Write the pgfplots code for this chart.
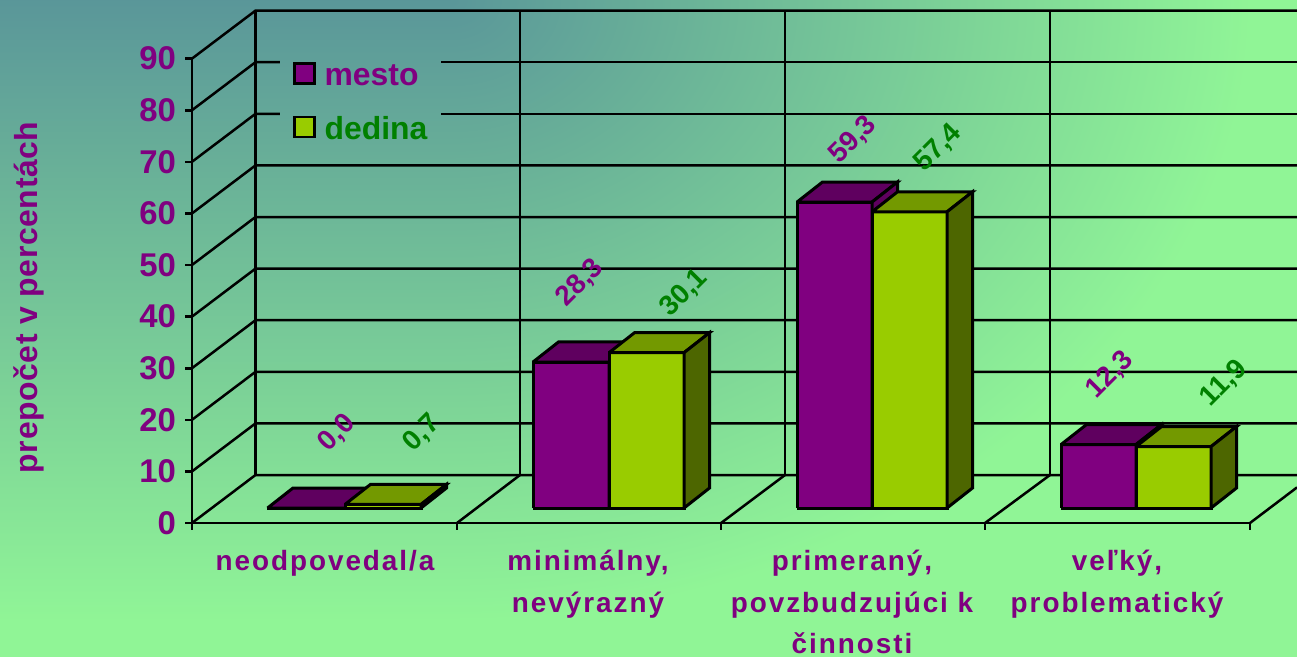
\documentclass[border=0pt]{standalone}
\usepackage{fontspec}
\usepackage{pgfplots}
\pgfplotsset{compat=1.18}
\setmainfont{Liberation Sans}
\newfontfamily\catfont[LetterSpace=7]{Liberation Sans}
\newfontfamily\ylabfont[LetterSpace=2]{Liberation Sans}
\definecolor{pur}{HTML}{800080}
\definecolor{purtop}{HTML}{5F005F}
\definecolor{lim}{HTML}{99CC00}
\definecolor{limtop}{HTML}{739900}
\definecolor{limside}{HTML}{4D6600}
\definecolor{grn}{HTML}{008000}
\pgfdeclarefunctionalshading{bg}{\pgfpointorigin}{\pgfpoint{1297bp}{657bp}}{}{
  657 exch sub 620 div dup mul
  exch 450 sub dup 0 lt {pop 0} if 800 div dup mul add sqrt
  dup 1 gt {pop 1} if
  dup 0.212 mul 0.353 add exch
  dup 0.370 mul 0.590 add exch
  -0.010 mul 0.600 add
}
% one 3D bar: left, right, value, colours of front, top and side
\newcommand\barD[6]{%
  \addplot[draw=black,line width=3bp,line join=miter,fill=#4] coordinates
    {(#1,2.9) (#2,2.9) (#2,{2.9+#3}) (#1,{2.9+#3}) (#1,2.9)};
  \addplot[draw=black,line width=3bp,line join=miter,fill=#5] coordinates
    {(#1,{2.9+#3}) (#2,{2.9+#3}) ({#2+25.5},{6.78+#3}) ({#1+25.5},{6.78+#3}) (#1,{2.9+#3})};
  \addplot[draw=black,line width=3bp,line join=miter,fill=#6] coordinates
    {(#2,2.9) ({#2+25.5},6.78) ({#2+25.5},{6.78+#3}) (#2,{2.9+#3}) (#2,2.9)};
}
\begin{document}
\begin{tikzpicture}[x=1bp,y=1bp]
\node[inner sep=0pt,outer sep=0pt,anchor=south west] at (-192bp,-134bp) {\pgfuseshading{bg}};
\begin{axis}[
  scale only axis,
  width=1058bp,height=464.4bp,
  xmin=192,xmax=1250,ymin=0,ymax=90,
  clip=false,
  axis lines=left,
  axis line style={-,line width=2.6bp,black},
  tick style={line width=2.6bp,black},
  major tick length=6.5bp,
  tick align=outside,
  ytick={0,10,...,90},
  xtick={192,457,721,985,1250},
  xticklabels={,,,,},
  extra x ticks={325,588,852,1117},
  extra x tick labels={neodpovedal/a,{minimálny,\\nevýrazný},{primeraný,\\povzbudzujúci k\\činnosti},{veľký,\\problematický}},
  extra x tick style={major tick length=0pt,tick style={draw=none},
    xticklabel style={align=center,anchor=north,inner sep=0pt,yshift=-27bp,text=pur,
      font=\catfont\fontsize{28}{41.5}\selectfont\bfseries}},
  yticklabel style={text=pur,font=\fontsize{33}{38}\selectfont\bfseries,xshift=-6bp},
  /pgf/number format/assume math mode=true,
  ylabel={prepočet v percentách},
  every axis y label/.style={at={(rel axis cs:-0.154,0.486)},anchor=center,rotate=90,
    text=pur,font=\ylabfont\fontsize{32}{38}\selectfont\bfseries},
  legend style={at={(axis cs:293,89.3)},anchor=north west,draw=none,fill=none,
    row sep=26bp,inner sep=0pt,
    font=\fontsize{32}{38}\selectfont\bfseries,
    /tikz/every odd column/.style={column sep=7bp}},
  legend cell align=left,
  legend image code/.code={\draw[#1] (0bp,-8bp) rectangle (20bp,12bp);},
]
% legend
\addlegendimage{draw=black,fill=pur,line width=2.4bp}
\addlegendentry{\textcolor{pur}{mesto}}
\addlegendimage{draw=black,fill=lim,line width=2.4bp}
\addlegendentry{\textcolor{grn}{dedina}}
% walls and floor
\pgfplotsinvokeforeach{0,10,60,50,40,30,20,90}{
  \addplot[black,line width=2.5bp] coordinates {(192,#1) (255.5,{#1+9.3}) (1297,{#1+9.3})};
}
\pgfplotsinvokeforeach{70,80}{
  \addplot[black,line width=2.5bp] coordinates {(192,#1) (255.5,{#1+9.3}) (280,{#1+9.3})};
  \addplot[black,line width=2.5bp] coordinates {(441,{#1+9.3}) (1297,{#1+9.3})};
}
\pgfplotsinvokeforeach{255.5,520,785,1050}{
  \addplot[black,line width=2.6bp] coordinates {(#1,9.3) (#1,99.3)};
}
\addplot[black,line width=2.5bp] coordinates {(457,0) (520,9.3)};
\addplot[black,line width=2.5bp] coordinates {(721,0) (785,9.3)};
\addplot[black,line width=2.5bp] coordinates {(985,0) (1050,9.3)};
\addplot[black,line width=2.5bp] coordinates {(1250,0) (1297,6.9)};
% bars
\barD{267.5}{345}{0.0}{pur}{purtop}{purtop}
\barD{345}{421}{0.7}{lim}{limtop}{limside}
\barD{533}{609}{28.3}{pur}{purtop}{purtop}
\barD{609}{684}{30.1}{lim}{limtop}{limside}
\barD{797}{872}{59.3}{pur}{purtop}{purtop}
\barD{872}{947}{57.4}{lim}{limtop}{limside}
\barD{1061}{1136}{12.3}{pur}{purtop}{purtop}
\barD{1136}{1211}{11.9}{lim}{limtop}{limside}
% data labels
\begin{scope}[every node/.style={rotate=45,font=\fontsize{28}{32}\selectfont\bfseries,inner sep=0pt}]
\node[text=pur] at (axis cs:337,17.4) {0,0};
\node[text=grn] at (axis cs:422,17.4) {0,7};
\node[text=pur] at (axis cs:580,46.5) {28,3};
\node[text=grn] at (axis cs:684,44.6) {30,1};
\node[text=pur] at (axis cs:853,74.2) {59,3};
\node[text=grn] at (axis cs:938,72.6) {57,4};
\node[text=pur] at (axis cs:1110,28.7) {12,3};
\node[text=grn] at (axis cs:1224,27) {11,9};
\end{scope}
\end{axis}
\pgfresetboundingbox
\path (-192bp,-134bp) rectangle (1105bp,523bp);
\end{tikzpicture}
\end{document}
